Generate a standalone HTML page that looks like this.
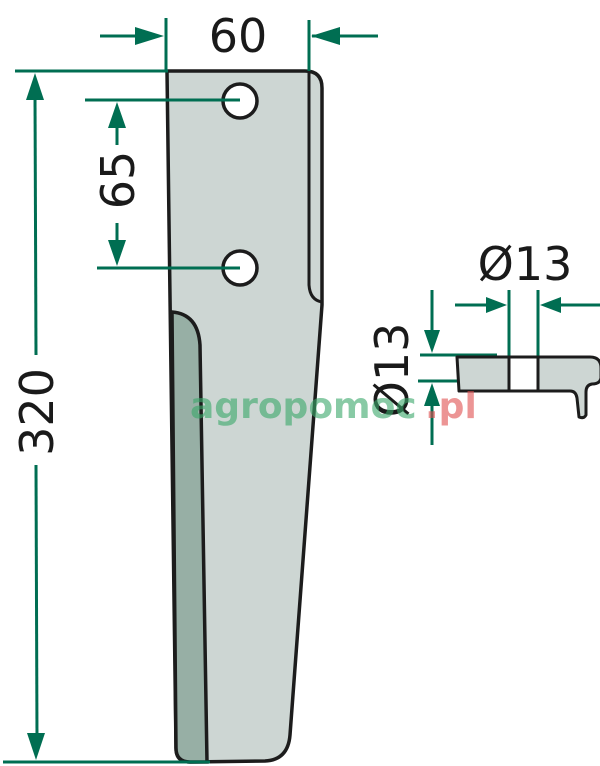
<!DOCTYPE html>
<html><head><meta charset="utf-8"><style>
html,body{margin:0;padding:0;background:#fff;}
svg{display:block}
text{font-family:"DejaVu Sans","Liberation Sans",sans-serif;fill:#1a1a1a}
</style></head><body>
<svg width="600" height="766" viewBox="0 0 600 766" xmlns="http://www.w3.org/2000/svg">
<defs>
<marker id="a" viewBox="0 0 10 10" refX="10" refY="5" markerWidth="4" markerHeight="4" orient="auto-start-reverse" markerUnits="userSpaceOnUse"></marker>
</defs>
<!-- blade -->
<path d="M167,71 L305,71 Q322,71 322,88 L322,305 L290,735 Q288,760 265,761 L190,762 Q176,762 176,748 Z" fill="#cdd6d3" stroke="#1c1c1c" stroke-width="3.5" stroke-linejoin="round"/>
<path d="M172,312 Q198,314 200,345 L207,762 L190,762 Q176,762 176,748 Z" fill="#97afa5" stroke="#1c1c1c" stroke-width="3.5"/>
<path d="M309,72 L309,285 Q310,300 322,302" fill="none" stroke="#1c1c1c" stroke-width="3"/>
<circle cx="240" cy="101" r="17" fill="#fff" stroke="#1c1c1c" stroke-width="3.5"/>
<circle cx="240" cy="268" r="17" fill="#fff" stroke="#1c1c1c" stroke-width="3.5"/>
<g stroke="#006e52" stroke-width="3" fill="none">
<line x1="15" y1="71" x2="168" y2="71"/>
<line x1="3" y1="762" x2="210" y2="762"/>
<line x1="35" y1="95" x2="36" y2="355"/>
<line x1="36" y1="465" x2="37" y2="740"/>
<line x1="166" y1="18" x2="166" y2="71"/>
<line x1="309" y1="20" x2="309" y2="71"/>
<line x1="100" y1="36" x2="140" y2="36"/>
<line x1="312" y1="36" x2="378" y2="36"/>
<line x1="85" y1="100" x2="240" y2="100"/>
<line x1="97" y1="268" x2="240" y2="268"/>
<line x1="117" y1="125" x2="117" y2="145"/>
<line x1="117" y1="223" x2="117" y2="245"/>
<line x1="509" y1="290" x2="509" y2="357"/>
<line x1="538" y1="290" x2="538" y2="357"/>
<line x1="455" y1="305" x2="490" y2="305"/>
<line x1="556" y1="305" x2="600" y2="305"/>
<line x1="420" y1="355" x2="497" y2="355"/>
<line x1="418" y1="381" x2="460" y2="381"/>
<line x1="432" y1="290" x2="432" y2="335"/>
<line x1="432" y1="400" x2="432" y2="445"/>
</g>
<g fill="#006e52">
<polygon points="35,73 26,100 44,100"/>
<polygon points="36,760 27,733 45,733"/>
<polygon points="164,36 135,27 135,45"/>
<polygon points="311,36 340,27 340,45"/>
<polygon points="117,102 108,128 126,128"/>
<polygon points="117,266 108,240 126,240"/>
<polygon points="507,305 486,297 486,313"/>
<polygon points="540,305 561,297 561,313"/>
<polygon points="432,353 424,330 440,330"/>
<polygon points="432,383 424,406 440,406"/>
</g>
<!-- side view -->
<path d="M457,357 L590,357 Q601,357 601,368 L601,378 Q600,384 592,384 Q586,385 586,392 L586,415 Q584,419 579,417 L577,398 Q576,391 570,391 L459,391 Z" fill="#cdd6d3" stroke="#1c1c1c" stroke-width="3" stroke-linejoin="round"/>
<rect x="509" y="357" width="29" height="34" fill="#fff" stroke="#1c1c1c" stroke-width="3"/>
<text x="238" y="52" font-size="46" text-anchor="middle">60</text>
<text x="525" y="280" font-size="46" text-anchor="middle">Ø13</text>
<text transform="translate(53,412) rotate(-90)" font-size="46" text-anchor="middle">320</text>
<text transform="translate(134,180) rotate(-90)" font-size="46" text-anchor="middle">65</text>
<text transform="translate(408,370) rotate(-90)" font-size="46" text-anchor="middle">Ø13</text>
<!-- watermark -->
<text x="190" y="418" font-size="36" font-weight="bold" fill="#3aa86a" opacity="0.6" style="fill:#3aa86a">agropomoc</text>
<text x="425" y="418" font-size="36" font-weight="bold" opacity="0.6" style="fill:#e05050">.pl</text>
</svg>
</body></html>
